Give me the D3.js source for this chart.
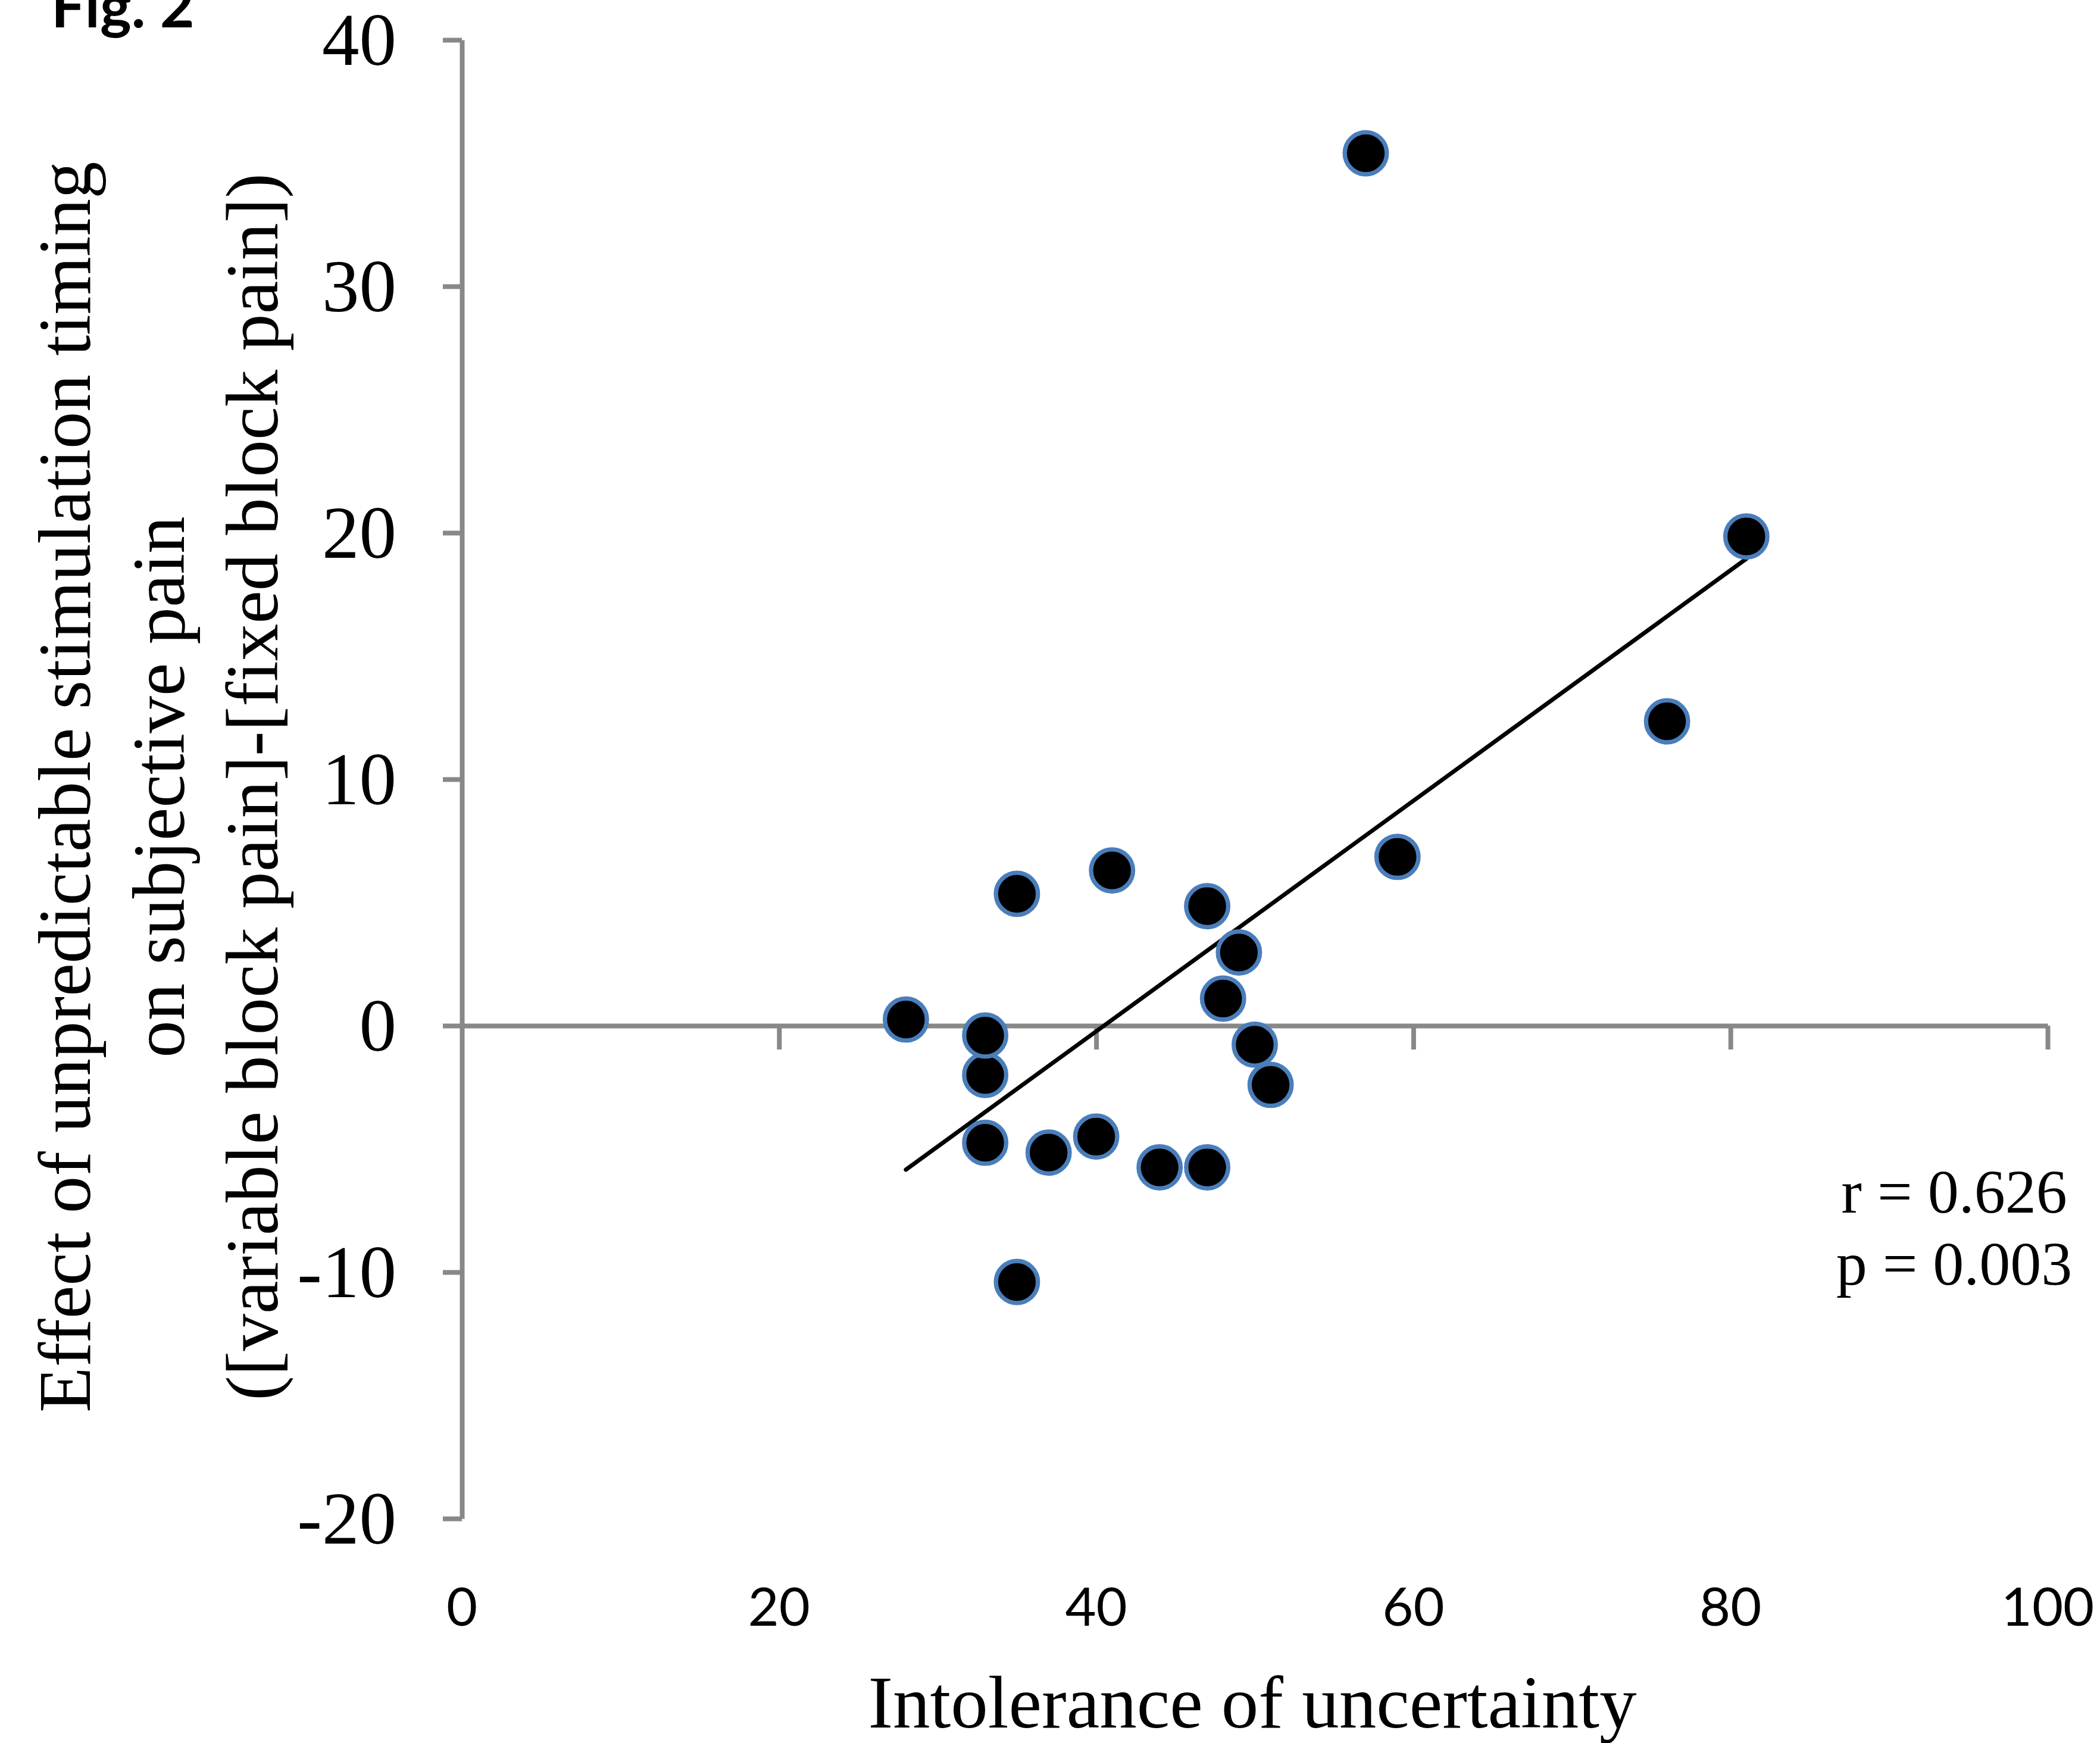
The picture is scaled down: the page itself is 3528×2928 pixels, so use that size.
<!DOCTYPE html>
<html>
<head>
<meta charset="utf-8">
<script src="https://cdn.jsdelivr.net/npm/d3@7"></script>
<style>
  body { margin: 0; background: #fff; }
  svg { display: block; }
</style>
</head>
<body>
<script>
// dados (x = intolerance of uncertainty, y = variable - fixed pain)
let iuScores   = [57, 81, 76, 59, 41, 35, 47, 49, 48, 28, 33, 33, 50, 51, 40, 33, 37, 44, 47, 35];
let painEffect = [35.4, 19.85, 12.35, 6.85, 6.3, 5.35, 4.85, 2.97, 1.1, 0.25, -2.0, -0.4, -0.77, -2.4, -4.5, -4.75, -5.15, -5.75, -5.75, -10.4];

let xTicks = [0, 20, 40, 60, 80, 100];
let yTicks = [-20, -10, 0, 10, 20, 30, 40];

let statLines = ['r = 0.626', 'p = 0.003'];
let yTitleLines = [
  'Effect of unpredictable stimulation timing',
  'on subjective pain',
  '([variable block pain]-[fixed block pain])'
];
let xTitle = 'Intolerance of uncertainty';
let figLabel = 'Fig. 2';

const W = 3528, H = 2928;
const serif = '"Liberation Serif", "Times New Roman", serif';
const sans = 'Lato, "Open Sans", sans-serif';
const axisGrey = '#888888';

let svg = d3.select('body')
  .append('svg')
  .attr('width', W)
  .attr('height', H)
  ;

svg.append('rect').attr('width', W).attr('height', H).attr('fill', '#fff');

let x = d3.scaleLinear().domain([0, 100]).range([776, 3440]);
let y = d3.scaleLinear().domain([-20, 40]).range([2551, 67]);

// eixo y (rótulos em serif, à esquerda) -- hífen simples, como no original
let yAxis = svg.append('g')
  .attr('transform', 'translate(' + x(0) + ',0)')
  .call(d3.axisLeft(y).tickValues(yTicks).tickSize(32).tickSizeOuter(0).tickFormat(d => String(d)))
  ;

yAxis.select('.domain').attr('stroke', axisGrey).attr('stroke-width', 8);
yAxis.selectAll('.tick line').attr('stroke', axisGrey).attr('stroke-width', 8);
yAxis.selectAll('.tick text')
  .attr('font-family', serif)
  .attr('font-size', 125)
  .attr('fill', '#000')
  .attr('x', -110)
  .attr('dy', '0.33em')
  ;

// eixo x cruza em y = 0, rótulos ficam embaixo
let xAxis = svg.append('g')
  .attr('transform', 'translate(0,' + y(0) + ')')
  .call(d3.axisBottom(x).tickValues(xTicks).tickSize(40).tickSizeOuter(0).tickFormat(''))
  ;

xAxis.select('.domain').attr('stroke', axisGrey).attr('stroke-width', 8);
xAxis.selectAll('.tick line').attr('stroke', axisGrey).attr('stroke-width', 8);
xAxis.selectAll('.tick').filter(d => d === 0).remove();

svg.append('g')
  .selectAll('text')
  .data(xTicks)
  .enter()
    .append('text')
    .attr('x', d => x(d))
    .attr('y', 2731)
    .attr('text-anchor', 'middle')
    .attr('font-family', sans)
    .attr('font-size', 90)
    .attr('fill', '#000')
    .text(d => d)
    ;

// reta de regressão (mínimos quadrados)
let pts = iuScores.map((v, i) => ({ x: v, y: painEffect[i] }));
let mx = d3.mean(pts, d => d.x);
let my = d3.mean(pts, d => d.y);
let slope = d3.sum(pts, d => (d.x - mx) * (d.y - my)) / d3.sum(pts, d => (d.x - mx) * (d.x - mx));
let icpt = my - slope * mx;
let xr = d3.extent(iuScores);

svg.append('line')
  .attr('x1', x(xr[0]))
  .attr('y1', y(icpt + slope * xr[0]))
  .attr('x2', x(xr[1]))
  .attr('y2', y(icpt + slope * xr[1]))
  .attr('stroke', '#000')
  .attr('stroke-width', 7)
  .attr('stroke-linecap', 'round')
  ;

svg.append('g')
  .selectAll('circle')
  .data(pts)
  .enter()
    .append('circle')
    .attr('cx', d => x(d.x))
    .attr('cy', d => y(d.y))
    .attr('r', 35.3)
    .attr('fill', '#000')
    .attr('stroke', '#4A7EBB')
    .attr('stroke-width', 7.3)
    ;

// estatísticas
svg.append('g')
  .selectAll('text')
  .data(statLines)
  .enter()
    .append('text')
    .attr('x', 3283)
    .attr('y', (d, i) => 2037 + i * 121)
    .attr('text-anchor', 'middle')
    .attr('font-family', serif)
    .attr('font-size', 104)
    .attr('fill', '#000')
    .text(d => d)
    ;

// títulos
svg.append('text')
  .attr('x', 2104)
  .attr('y', 2902)
  .attr('text-anchor', 'middle')
  .attr('font-family', serif)
  .attr('font-size', 125)
  .attr('fill', '#000')
  .text(xTitle)
  ;

svg.append('g')
  .attr('transform', 'translate(0,1322) rotate(-90)')
  .selectAll('text')
  .data(yTitleLines)
  .enter()
    .append('text')
    .attr('x', 0)
    .attr('y', (d, i) => 151 + i * 157.5)
    .attr('text-anchor', 'middle')
    .attr('font-family', serif)
    .attr('font-size', 125)
    .attr('fill', '#000')
    .text(d => d)
    ;

svg.append('text')
  .attr('x', 86)
  .attr('y', 46)
  .attr('font-family', sans)
  .attr('font-weight', 'bold')
  .attr('font-size', 100)
  .attr('fill', '#000')
  .text(figLabel)
  ;
</script>
</body>
</html>
